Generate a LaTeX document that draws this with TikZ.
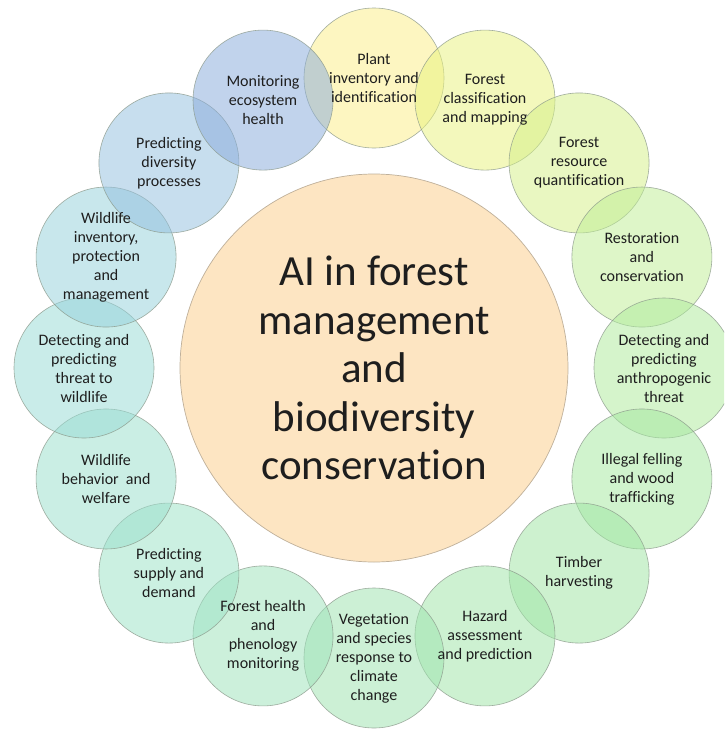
\documentclass[tikz,border=0pt]{standalone}
\usepackage{fontspec}
\setmainfont{Carlito}[Ligatures={NoCommon}]
\definecolor{k1}{HTML}{FCEE89}
\definecolor{k2}{HTML}{E9F37F}
\definecolor{k3}{HTML}{D5F089}
\definecolor{k4}{HTML}{C0EE96}
\definecolor{k5}{HTML}{AFEB9D}
\definecolor{k6}{HTML}{A5E8A0}
\definecolor{k7}{HTML}{A0E6A3}
\definecolor{k8}{HTML}{A0E6A8}
\definecolor{k9}{HTML}{9EE4AF}
\definecolor{k10}{HTML}{9EE3BB}
\definecolor{k11}{HTML}{9DE3C6}
\definecolor{k12}{HTML}{9BDFCD}
\definecolor{k13}{HTML}{99DCD5}
\definecolor{k14}{HTML}{96D2DC}
\definecolor{k15}{HTML}{94C0DF}
\definecolor{k16}{HTML}{8AACDC}
\definecolor{hubfill}{HTML}{FDE5C2}
\definecolor{hubline}{HTML}{BFB09A}
\definecolor{bubline}{HTML}{8C9A8C}
\definecolor{txt}{HTML}{1E1E1E}
\begin{document}
\begin{tikzpicture}[x=1pt,y=-1pt,
  bub/.style={circle, draw=bubline, draw opacity=0.8, line width=0.6pt, minimum size=140pt, inner sep=0pt, fill opacity=0.52},
  hub/.style={circle, draw=hubline, line width=0.7pt, fill=hubfill, minimum size=388pt, inner sep=0pt},
  lbl/.style={align=center, text=txt, font=\fontsize{16}{19}\selectfont},
  hublbl/.style={align=center, text=txt, font=\fontsize{43}{48.5}\selectfont}]
\useasboundingbox (0,0) rectangle (724,729);
\clip (0,0) rectangle (724,729);
\fill[white] (0,0) rectangle (724,729);
\node[hub] (hub) at (374,368) {};
\foreach \i in {1,...,16}{
  \pgfmathsetmacro{\ang}{90-22.5*(\i-1)}
  \node[bub, fill=k\i] (c\i) at ({374+290*cos(\ang)},{368-290*sin(\ang)}) {};
}
\node[hublbl] (t0) at (hub.center) {AI in forest\\management\\and\\biodiversity\\conservation};
\node[lbl] (t1) at (c1.center) {Plant\\inventory and\\identification};
\node[lbl] (t2) at (c2.center) {Forest\\classification\\and mapping};
\node[lbl] (t3) at (c3.center) {Forest\\resource\\quantification};
\node[lbl] (t4) at (c4.center) {Restoration\\and\\conservation};
\node[lbl] (t5) at (c5.center) {Detecting and\\predicting\\anthropogenic\\threat};
\node[lbl] (t6) at (c6.center) {Illegal felling\\and wood\\trafficking};
\node[lbl] (t7) at (c7.center) {Timber\\harvesting};
\node[lbl] (t8) at (c8.center) {Hazard\\assessment\\and prediction};
\node[lbl] (t9) at (c9.center) {Vegetation\\and species\\response to\\climate\\change};
\node[lbl] (t10) at (c10.center) {Forest health\\and\\phenology\\monitoring};
\node[lbl] (t11) at (c11.center) {Predicting\\supply and\\demand};
\node[lbl] (t12) at (c12.center) {Wildlife\\behavior\ \ and\\welfare};
\node[lbl] (t13) at (c13.center) {Detecting and\\predicting\\threat to\\wildlife};
\node[lbl] (t14) at (c14.center) {Wildlife\\inventory,\\protection\\and\\management};
\node[lbl] (t15) at (c15.center) {Predicting\\diversity\\processes};
\node[lbl] (t16) at (c16.center) {Monitoring\\ecosystem\\health};
\end{tikzpicture}
\end{document}
